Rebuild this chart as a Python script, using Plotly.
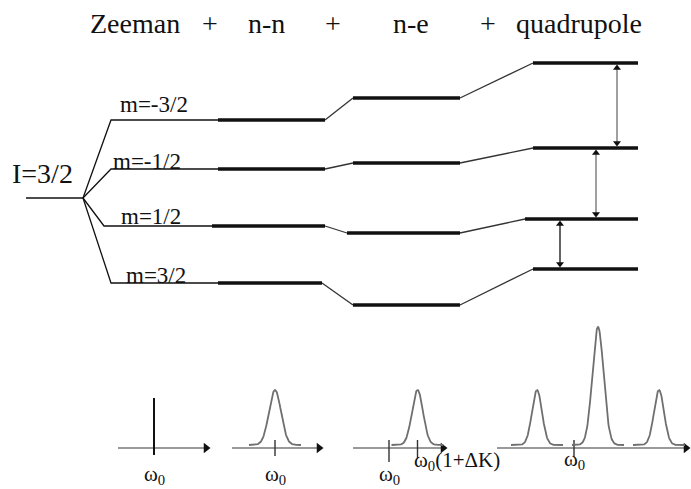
import numpy as np
import plotly.graph_objects as go

# ---- energy levels of an I=3/2 nucleus (arbitrary energy units, up = higher) ----
stage_names = ["Zeeman", "n-n", "n-e", "quadrupole"]
m_labels = ["m=-3/2", "m=-1/2", "m=1/2", "m=3/2"]
E_unsplit = 291
E_zeeman = [369, 320, 263, 206]
E_nn = [369, 320, 263, 206]
E_ne = [391, 326, 256, 184]
E_quad = [426, 341, 270, 220]

# ---- spectra (frequency along the same horizontal scale, intensity up) ----
w0_pos = [154, 275, 389, 574]
zeeman_line_height = 50
nn_peaks, nn_heights, nn_widths = [275], [58], [6.0]
ne_peaks, ne_heights, ne_widths = [417.5], [58], [5.5]
quad_peaks, quad_heights, quad_widths = [537, 598, 659], [58, 121, 58], [5.0, 5.6, 5.0]

# ---- drawing layout ----
W, H = 691, 489
serif = "Liberation Serif"
ink = "#111111"
thin_w, thick_w = 1.3, 3.6

unsplit_x0, branch_x = 26, 83
zee_x0 = [111, 111, 104, 111]
zee_x1 = [218, 218, 212, 218]
nn_x1 = [325, 325, 325, 322]
ne_x0 = [353, 353, 347, 353]
ne_x1 = 460
q_x0 = [533, 533, 525, 533]
q_x1 = 638
arrow_x = [617, 596, 560]
arrow_col = ["#777777", "#777777", "#222222"]

spec_axis_y = 41
spec_spans = [(118, 210), (232, 323), (353, 447), (497, 690)]

fig = go.Figure()


def add_path(xs, ys, width, color):
    fig.add_trace(go.Scatter(x=xs, y=ys, mode="lines", hoverinfo="skip",
                             line=dict(color=color, width=width), showlegend=False))


def add_heads(xs, ys, symbols, size):
    fig.add_trace(go.Scatter(x=xs, y=ys, mode="markers", hoverinfo="skip", showlegend=False,
                             marker=dict(symbol=symbols, size=size, color="#111111",
                                         line=dict(width=0))))


# unsplit level and Zeeman fan
add_path([unsplit_x0, branch_x], [E_unsplit, E_unsplit], thin_w, ink)
xs, ys = [], []
for i in range(4):
    xs += [branch_x, zee_x0[i], zee_x1[i], None]
    ys += [E_unsplit, E_zeeman[i], E_zeeman[i], None]
add_path(xs, ys, thin_w, ink)

# thin connectors between stages
xs, ys = [], []
for i in range(4):
    xs += [nn_x1[i], ne_x0[i], None, ne_x1, q_x0[i], None]
    ys += [E_nn[i], E_ne[i], None, E_ne[i], E_quad[i], None]
add_path(xs, ys, thin_w, "#333333")

# thick levels for n-n, n-e and quadrupole stages
xs, ys = [], []
for i in range(4):
    xs += [zee_x1[i], nn_x1[i], None, ne_x0[i], ne_x1, None, q_x0[i], q_x1, None]
    ys += [E_nn[i], E_nn[i], None, E_ne[i], E_ne[i], None, E_quad[i], E_quad[i], None]
add_path(xs, ys, thick_w, ink)

# transitions between adjacent quadrupole-shifted levels (double-headed arrows)
hx, hy, hs = [], [], []
for i in range(3):
    add_path([arrow_x[i], arrow_x[i]], [E_quad[i] - 4, E_quad[i + 1] + 4], 1.4, arrow_col[i])
    hx += [arrow_x[i], arrow_x[i]]
    hy += [E_quad[i] - 5, E_quad[i + 1] + 5]
    hs += ["triangle-up", "triangle-down"]
add_heads(hx, hy, hs, 7)

# spectrum axes with arrow heads
hx, hy = [], []
for (a, b) in spec_spans:
    add_path([a, b - 4], [spec_axis_y, spec_axis_y], 1.6, "#777777")
    hx.append(b - 4)
    hy.append(spec_axis_y)
add_heads(hx, hy, ["triangle-right"] * len(hx), 9)

# Zeeman-only spectrum: a single sharp line at w0
add_path([w0_pos[0], w0_pos[0]], [spec_axis_y - 7, spec_axis_y + zeeman_line_height], 2.0, ink)

# tick marks at w0 (and at the shifted frequency)
ticks = [(w0_pos[1], 8, 8), (w0_pos[2], 8, 14), (ne_peaks[0], 8, 10), (w0_pos[3], 8, 9)]
xs, ys = [], []
for (tx, up, down) in ticks:
    xs += [tx, tx, None]
    ys += [spec_axis_y + up, spec_axis_y - down, None]
add_path(xs, ys, 1.4, "#333333")


# gaussian lines
def add_peak(center, height, sigma):
    f = np.linspace(center - 26, center + 26, 121)
    lift = 3
    y = spec_axis_y + lift + (height - lift) * np.exp(-0.5 * ((f - center) / sigma) ** 2)
    add_path(f, y, 1.8, "#6f6f6f")


for c, h, s in zip(nn_peaks + ne_peaks + quad_peaks,
                   nn_heights + ne_heights + quad_heights,
                   nn_widths + ne_widths + quad_widths):
    add_peak(c, h, s)

annotations = []

# header
header = [("Zeeman", 135), ("+", 210), ("n-n", 266), ("+", 333), ("n-e", 411),
          ("+", 488), ("quadrupole", 579)]
for txt, x in header:
    annotations.append(dict(x=x, y=466, text=txt, showarrow=False, xref="x", yref="y",
                            font=dict(family=serif, size=28, color=ink)))

# level labels
annotations.append(dict(x=42, y=316, text="I=3/2", showarrow=False, xref="x", yref="y",
                        font=dict(family=serif, size=28, color=ink)))
m_x = [154, 147, 151, 156]
m_y = [385, 328, 273, 214]
for lab, x, y in zip(m_labels, m_x, m_y):
    annotations.append(dict(x=x, y=y, text=lab, showarrow=False, xref="x", yref="y",
                            font=dict(family=serif, size=23, color=ink)))

# frequency labels
w0 = "\u03c9<sub>0</sub>"
freq_labels = [(w0, w0_pos[0], 14, "center"), (w0, w0_pos[1], 14, "center"),
               (w0, w0_pos[2], 14, "center"), (w0 + "(1+\u0394K)", 412, 28, "left"),
               (w0, w0_pos[3], 29, "center")]
for txt, x, y, anc in freq_labels:
    annotations.append(dict(x=x, y=y, text=txt, showarrow=False, xref="x", yref="y",
                            xanchor=anc, font=dict(family=serif, size=21, color=ink)))

fig.update_layout(
    width=W, height=H, margin=dict(l=0, r=0, t=0, b=0),
    paper_bgcolor="white", plot_bgcolor="white",
    xaxis=dict(range=[0, W], visible=False, fixedrange=True),
    yaxis=dict(range=[0, H], visible=False, fixedrange=True),
    annotations=annotations, showlegend=False,
)

fig.write_html("out.html")
